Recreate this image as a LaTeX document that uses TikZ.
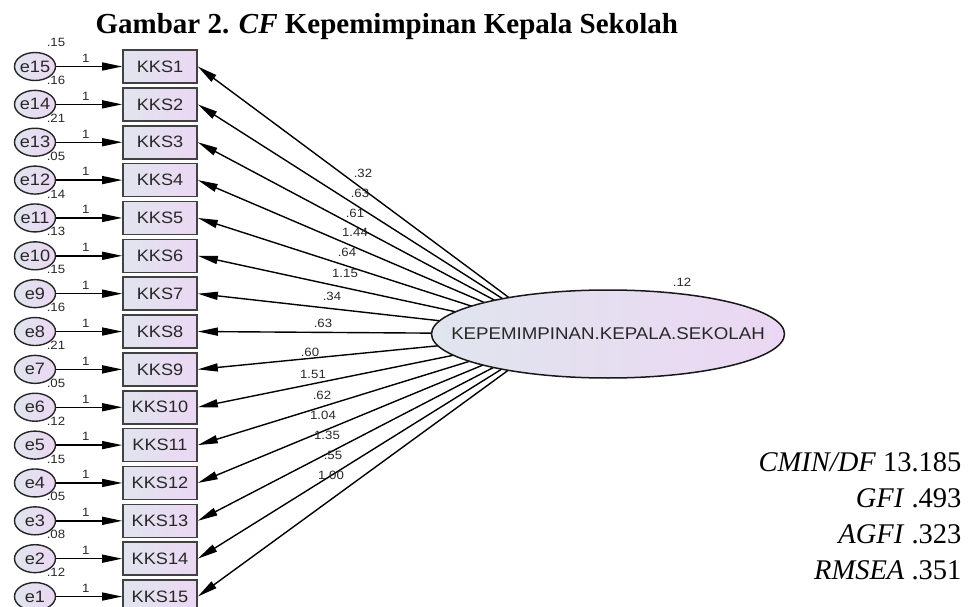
\documentclass[tikz,border=0pt]{standalone}
\usepackage{fontspec}
\setmainfont{Liberation Serif}
\setsansfont[FakeStretch=1.1]{Liberation Sans}
\usetikzlibrary{arrows.meta, positioning, shapes.geometric, calc, backgrounds}

\definecolor{shadeleft}{RGB}{224,229,238}
\definecolor{shaderight}{RGB}{235,215,243}
\definecolor{framegray}{RGB}{65,65,65}
\definecolor{inkgray}{RGB}{40,40,40}

\begin{document}
\begin{tikzpicture}[x=1pt, y=-1pt,
    obs/.style={draw=framegray, line width=1.6pt, rectangle, minimum width=74pt, minimum height=33pt,
        inner sep=0pt, left color=shadeleft, right color=shaderight, text=inkgray,
        font=\fontsize{16.5}{18}\selectfont\sffamily},
    err/.style={draw=black!85, line width=1.4pt, ellipse, minimum width=41pt, minimum height=28pt,
        inner sep=-3pt, left color=shadeleft, right color=shaderight, text=inkgray,
        font=\fontsize{16.5}{18}\selectfont\sffamily},
    lat/.style={draw=black!90, line width=1.5pt, ellipse, minimum width=353pt, minimum height=88pt,
        inner xsep=-70pt, inner ysep=-5pt, left color=shadeleft, right color=shaderight, text=inkgray,
        font=\fontsize{17}{18}\selectfont\sffamily},
    arr/.style={-{Triangle[length=20pt, width=8pt]}, line width=1.4pt},
    num/.style={font=\fontsize{12}{13}\selectfont\sffamily, text=inkgray, inner sep=1pt},
    fit/.style={anchor=base east, font=\fontsize{28.5}{30}\selectfont}
]
\clip (0,0) rectangle (970,607);

% title
\node[anchor=base west, font=\fontsize{29}{31}\selectfont\bfseries] (title) at (92,34)
    {Gambar 2. \textit{CF} Kepemimpinan Kepala Sekolah};

% indicators and their error terms
\foreach \i in {1,...,15}{
  \pgfmathtruncatemacro\j{16-\i}
  \node[obs] (kks\i) at (160, {66.5+(\i-1)*37.86}) {KKS\i};
  \node[err] (e\j) at (35, {66.5+(\i-1)*37.86}) {e\j};
  \draw[arr] (e\j) -- node[num, above=2.5pt, pos=0.45] (one\i) {1} (kks\i);
}

% error variances
\foreach \j/\v in {15/.15, 14/.16, 13/.21, 12/.05, 11/.14, 10/.13, 9/.15, 8/.16,
                   7/.21, 6/.05, 5/.12, 4/.15, 3/.05, 2/.08, 1/.12}
  \node[num] (var\j) at ($(e\j.center)+(21,-24)$) {\v};

% latent factor
\node[lat] (kps) at (608,334) {KEPEMIMPINAN.KEPALA.SEKOLAH};
\node[num] (varkps) at (682,282) {.12};
\coordinate (hub) at ($(kps.center)+(-50,0)$);

% loadings (behind the ellipse)
\begin{pgfonlayer}{background}
  \foreach \i in {1,...,15}
    \draw[arr] (hub) -- (kks\i.east);
\end{pgfonlayer}

\foreach \i/\v/\x/\y in {1/.32/363/173, 2/.63/360/193, 3/.61/355/213, 4/1.44/355/232,
                         5/.64/347/252, 6/1.15/345/273, 7/.34/332/296, 8/.63/323/323,
                         9/.60/310/352, 10/1.51/313/374, 11/.62/322/395, 12/1.04/323/415,
                         13/1.35/327/435, 14/.55/333/455, 15/1.00/331/475}
  \node[num] (ld\i) at (\x,\y) {\v};

% fit indices
\node[fit] (cmin) at (965,471) {\textit{CMIN/DF} 13.185};
\node[fit] (gfi) at (965,507) {\textit{GFI} .493};
\node[fit] (agfi) at (965,543) {\textit{AGFI} .323};
\node[fit] (rmsea) at (965,579) {\textit{RMSEA} .351};
\end{tikzpicture}
\end{document}
